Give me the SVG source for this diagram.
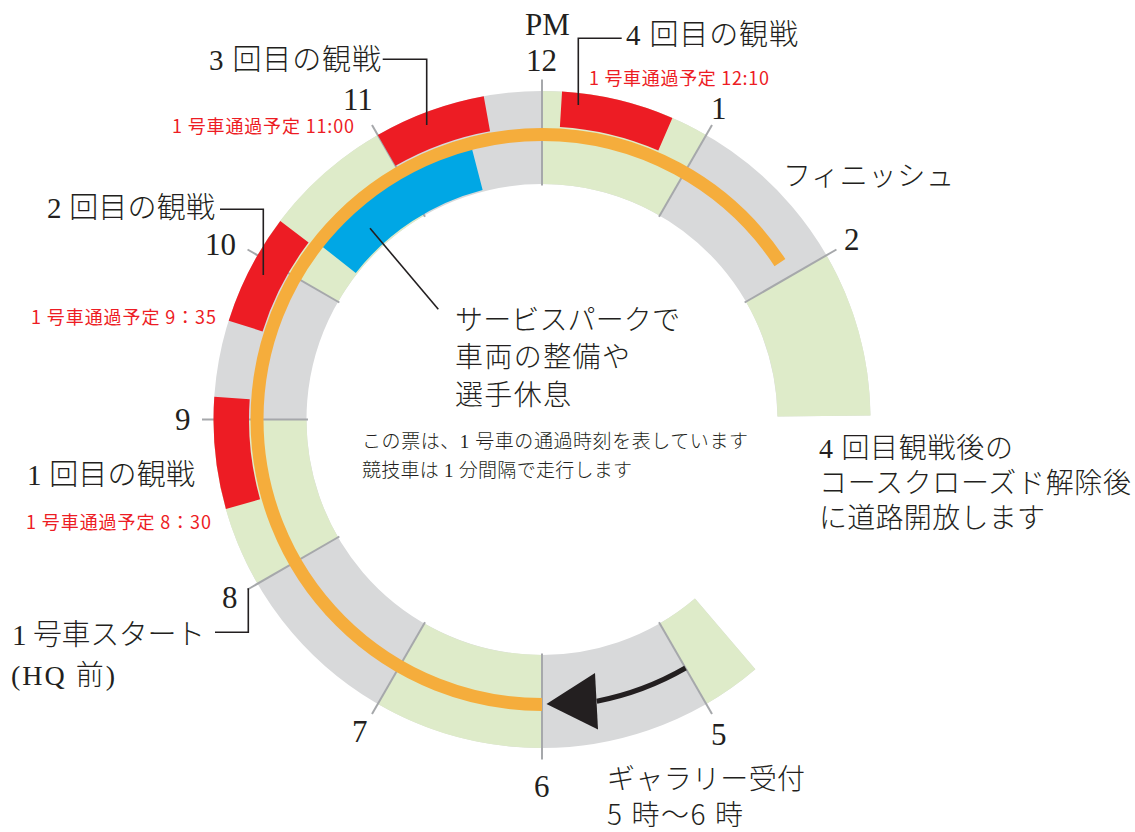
<svg xmlns="http://www.w3.org/2000/svg" width="1135" height="832" viewBox="0 0 1135 832">
<style>
.arc{fill:none}
.gr{stroke:#d8d9da;stroke-width:93}
.gn{stroke:#deebc9;stroke-width:93}
.rd{stroke:#ed1c24;stroke-width:35.5}
.bl{stroke:#00a7e5;stroke-width:44}
.or{stroke:#f5ad3c;stroke-width:13}
.tick{stroke:#a6a8ab;stroke-width:2}
.lead{fill:none;stroke:#231f20;stroke-width:1.6}
text{fill:#231f20}
.num{font-family:"Liberation Serif","Noto Sans CJK JP",serif;font-size:31px}
.jp{font-family:"Liberation Serif","Noto Sans CJK JP",serif;font-size:29px;font-weight:300}
.jpl{font-family:"Liberation Serif","Noto Sans CJK JP",serif;font-size:28px;font-weight:300}
.jps{font-family:"Noto Sans CJK JP",sans-serif;font-size:28px;font-weight:300}
.sm{font-family:"Liberation Serif","Noto Sans CJK JP",serif;font-size:19px;font-weight:300}
.red{font-family:"Noto Sans CJK JP",sans-serif;font-size:18px;fill:#ed1c24}
</style>

<g id="ring">
  <circle class="arc gr" cx="542" cy="419.5" r="282" pathLength="360" stroke-dasharray="309.8 400" transform="rotate(49.5 542 419.5)"/>
  <circle class="arc gn" cx="542" cy="419.5" r="282" pathLength="360" stroke-dasharray="30 400" transform="rotate(-90 542 419.5)"/>
  <circle class="arc gn" cx="542" cy="419.5" r="282" pathLength="360" stroke-dasharray="29.3 400" transform="rotate(-30 542 419.5)"/>
  <circle class="arc gn" cx="542" cy="419.5" r="282" pathLength="360" stroke-dasharray="10.5 400" transform="rotate(49.5 542 419.5)"/>
  <circle class="arc gn" cx="542" cy="419.5" r="282" pathLength="360" stroke-dasharray="30 400" transform="rotate(90 542 419.5)"/>
  <circle class="arc gn" cx="542" cy="419.5" r="282" pathLength="360" stroke-dasharray="30 400" transform="rotate(150 542 419.5)"/>
  <circle class="arc gn" cx="542" cy="419.5" r="282" pathLength="360" stroke-dasharray="30 400" transform="rotate(210 542 419.5)"/>
</g>

<g id="ticks">
  <line class="tick" x1="542" y1="185.5" x2="542" y2="79.5"/>
  <line class="tick" x1="542" y1="185.5" x2="542" y2="79.5" transform="rotate(30 542 419.5)"/>
  <line class="tick" x1="542" y1="185.5" x2="542" y2="79.5" transform="rotate(60 542 419.5)"/>
  <line class="tick" x1="542" y1="185.5" x2="542" y2="79.5" transform="rotate(150 542 419.5)"/>
  <line class="tick" x1="542" y1="185.5" x2="542" y2="79.5" transform="rotate(180 542 419.5)"/>
  <line class="tick" x1="542" y1="185.5" x2="542" y2="79.5" transform="rotate(210 542 419.5)"/>
  <line class="tick" x1="542" y1="185.5" x2="542" y2="79.5" transform="rotate(240 542 419.5)"/>
  <line class="tick" x1="542" y1="185.5" x2="542" y2="79.5" transform="rotate(270 542 419.5)"/>
  <line class="tick" x1="542" y1="185.5" x2="542" y2="79.5" transform="rotate(300 542 419.5)"/>
  <line class="tick" x1="542" y1="185.5" x2="542" y2="79.5" transform="rotate(330 542 419.5)"/>
</g>

<g id="viewing1"><circle class="arc rd" cx="542" cy="419.5" r="310.75" pathLength="360" stroke-dasharray="19.8 400" transform="rotate(164.2 542 419.5)"/></g>
<g id="viewing2"><circle class="arc rd" cx="542" cy="419.5" r="310.75" pathLength="360" stroke-dasharray="19.7 400" transform="rotate(197.5 542 419.5)"/></g>
<g id="viewing3"><circle class="arc rd" cx="542" cy="419.5" r="310.75" pathLength="360" stroke-dasharray="19.8 400" transform="rotate(240 542 419.5)"/></g>
<g id="viewing4"><circle class="arc rd" cx="542" cy="419.5" r="310.75" pathLength="360" stroke-dasharray="19.9 400" transform="rotate(-86.5 542 419.5)"/></g>
<g id="service-park"><circle class="arc bl" cx="542" cy="419.5" r="259" pathLength="360" stroke-dasharray="37.3 400" transform="rotate(218.2 542 419.5)"/></g>
<g id="route"><circle class="arc or" cx="542" cy="419.5" r="285" pathLength="360" stroke-dasharray="236.6 400" transform="rotate(90 542 419.5)"/></g>

<g id="connectors">
  <path class="lead" d="M621.7,38.3 H578.3 V105"/>
  <path class="lead" d="M382.7,59.3 H426.7 V125"/>
  <path class="lead" d="M220,209.3 H263.3 V275"/>
  <path class="lead" d="M215,632.3 H248.3 V588.3"/>
  <path class="lead" d="M370,228.3 L438.3,309.3"/>
  <path d="M685.5,668 A287,287 0 0,1 596.8,701.2" fill="none" stroke="#231f20" stroke-width="5"/>
  <polygon points="546.5,704 595,673 598,729.5" fill="#231f20"/>
</g>

<g id="labels">
  <text class="num" x="525" y="35">PM</text>
  <text class="num" x="526" y="71">12</text>
  <text class="num" x="711" y="119">1</text>
  <text class="num" x="844" y="250">2</text>
  <text class="num" x="711" y="745">5</text>
  <text class="num" x="534" y="797">6</text>
  <text class="num" x="352" y="742">7</text>
  <text class="num" x="222" y="608">8</text>
  <text class="num" x="175" y="430">9</text>
  <text class="num" x="205" y="255">10</text>
  <text class="num" x="343" y="110">11</text>

  <text class="jp" x="626" y="45" textLength="172">4 回目の観戦</text>
  <text class="red" x="589" y="85" textLength="180">1 号車通過予定 12:10</text>
  <text class="jp" x="209" y="70" textLength="172">3 回目の観戦</text>
  <text class="red" x="172" y="133" textLength="182">1 号車通過予定 11:00</text>
  <text class="jp" x="47" y="218" textLength="168">2 回目の観戦</text>
  <text class="red" x="31" y="324" textLength="185">1 号車通過予定 9：35</text>
  <text class="jp" x="27" y="485" textLength="168">1 回目の観戦</text>
  <text class="red" x="26" y="529" textLength="185">1 号車通過予定 8：30</text>
  <text class="jp" x="12" y="645" textLength="193">1 号車スタート</text>
  <text class="jpl" x="11" y="685" textLength="104">(HQ 前)</text>

  <text class="jpl" x="783" y="186" textLength="171">フィニッシュ</text>

  <text class="jpl" x="455" y="330" textLength="225">サービスパークで</text>
  <text class="jpl" x="455" y="367" textLength="175">車両の整備や</text>
  <text class="jpl" x="455" y="405" textLength="116">選手休息</text>

  <text class="sm" x="362" y="448" textLength="386">この票は、1 号車の通過時刻を表しています</text>
  <text class="sm" x="362" y="477" textLength="270">競技車は 1 分間隔で走行します</text>

  <text class="jpl" x="819" y="458" textLength="194">4 回目観戦後の</text>
  <text class="jpl" x="819" y="493" textLength="312">コースクローズド解除後</text>
  <text class="jpl" x="819" y="528" textLength="226">に道路開放します</text>

  <text class="jps" x="607" y="789" textLength="198">ギャラリー受付</text>
  <text class="jps" x="607" y="825" textLength="136">5 時〜6 時</text>
</g>
</svg>
